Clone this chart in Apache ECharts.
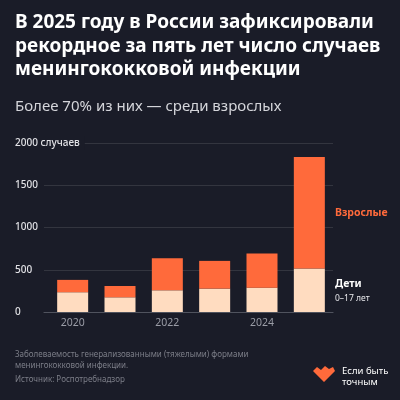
<!DOCTYPE html>
<html><head><meta charset="utf-8">
<script src="https://cdn.jsdelivr.net/npm/echarts@6/dist/echarts.min.js"></script>
<style>html,body{margin:0;padding:0;background:#1a1c28;}#c{width:400px;height:400px;}</style>
</head><body><div id="c"></div>
<script>
const years = ['2020', '2021', '2022', '2023', '2024', '2025'];
const children = [234, 174, 257, 277, 288, 514];
const adults = [146, 134, 380, 328, 404, 1321];
const shownYears = ['2020', '2022', '2024'];
const yMax = 2000;
const yStep = 500;

const BG = '#1a1c28';
const ORANGE = '#ff6a3b';
const PEACH = '#ffdcc0';
const FONT = 'Noto Sans';

const chart = echarts.init(document.getElementById('c'));
chart.setOption({
  backgroundColor: BG,
  animation: false,
  textStyle: { fontFamily: FONT },
  title: [
    { text: 'В 2025 году в России зафиксировали\nрекордное за пять лет число случаев\nменингококковой инфекции',
      left: 15, top: 11, padding: 0,
      textStyle: { color: '#ffffff', fontSize: 19, fontWeight: 'bold', lineHeight: 23.5, fontFamily: FONT } },
    { text: 'Более 70% из них — среди взрослых', left: 15, top: 98, padding: 0,
      textStyle: { color: '#d4d5da', fontSize: 15, fontWeight: 'normal', lineHeight: 18, fontFamily: FONT } }
  ],
  grid: [
    { left: 44, right: 67, top: 143, bottom: 88 },
    { left: 49, right: 67, top: 143, bottom: 88 }
  ],
  xAxis: [
    { gridIndex: 0, type: 'value', min: 0, max: 1,
      axisLine: { show: true, lineStyle: { color: '#50535e', width: 1.2 } },
      axisTick: { show: false }, axisLabel: { show: false }, splitLine: { show: false } },
    { gridIndex: 1, type: 'category', data: years,
      axisLine: { show: false }, axisTick: { show: false }, splitLine: { show: false },
      axisLabel: { color: '#9a9ca6', fontSize: 10.5, margin: 6, interval: 0,
        formatter: v => shownYears.includes(v) ? v : '' } }
  ],
  yAxis: [
    { gridIndex: 0, type: 'value', min: 0, max: yMax, interval: yStep,
      axisLine: { show: false }, axisTick: { show: false },
      splitLine: { lineStyle: { color: '#33353f', width: 1 } },
      axisLabel: {
        align: 'left', margin: 29, color: '#e2e2e6', fontSize: 10, fontWeight: 500,
        formatter: v => v === yMax ? '{a|' + v + ' случаев}' : String(v),
        rich: { a: { color: '#e2e2e6', fontSize: 10, fontWeight: 500, backgroundColor: BG, padding: [2, 5, 2, 0] } }
      } },
    { gridIndex: 1, type: 'value', min: 0, max: yMax, show: false, splitLine: { show: false } }
  ],
  series: [
    { name: 'Дети', type: 'bar', stack: 't', xAxisIndex: 1, yAxisIndex: 1, barWidth: 31,
      itemStyle: { color: PEACH }, data: children },
    { name: 'Взрослые', type: 'bar', stack: 't', xAxisIndex: 1, yAxisIndex: 1, barWidth: 31,
      itemStyle: { color: ORANGE }, data: adults }
  ],
  graphic: [
    { type: 'text', left: 335, top: 208, style: { text: 'Взрослые', fill: ORANGE, fontSize: 10.5, fontWeight: 'bold', fontFamily: FONT } },
    { type: 'text', left: 335, top: 279, style: { text: 'Дети', fill: '#ffffff', fontSize: 10.5, fontWeight: 'bold', fontFamily: FONT } },
    { type: 'text', left: 335, top: 294, style: { text: '0–17 лет', fill: '#e8e8ec', fontSize: 8.5, fontFamily: FONT } },
    { type: 'text', left: 15, top: 349, style: { text: 'Заболеваемость генерализованными (тяжелыми) формами\nменингококковой инфекции.', fill: '#7c7e88', fontSize: 8, lineHeight: 11, fontFamily: FONT } },
    { type: 'text', left: 15, top: 376, style: { text: 'Источник: Роспотребнадзор', fill: '#7c7e88', fontSize: 8, fontFamily: FONT } },
    { type: 'polygon', shape: { points: [[313,371],[317,367],[321,370],[325,366],[329,369],[333,367],[335,371],[324,382]] }, style: { fill: ORANGE } },
    { type: 'text', left: 342, top: 366, style: { text: 'Если быть\nточным', fill: '#ffffff', fontSize: 9.5, lineHeight: 11, fontFamily: FONT } }
  ]
});
</script></body></html>
